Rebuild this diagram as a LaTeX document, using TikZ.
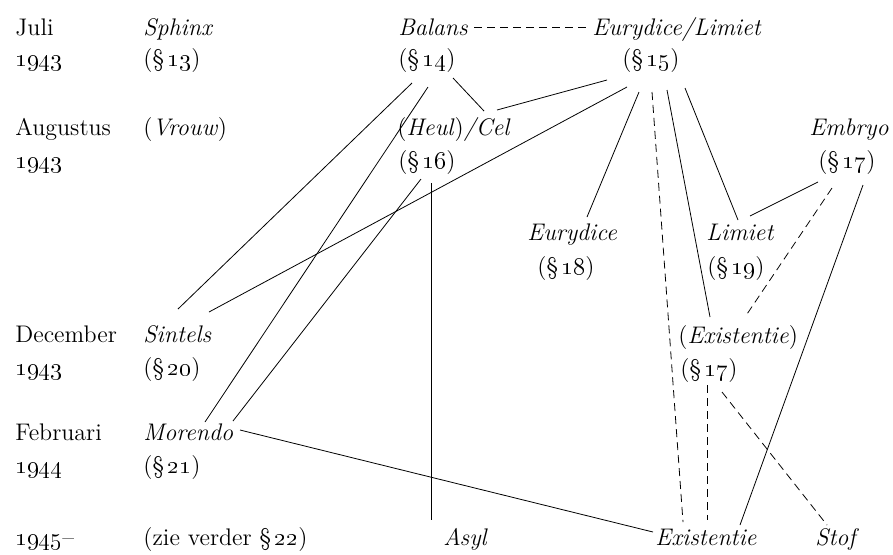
\documentclass[tikz,border=0pt]{standalone}
\usepackage{tikz}
\usetikzlibrary{positioning}

\newcommand{\paragr}[1]{(\S\,\oldstylenums{#1})}

\begin{document}
\begin{tikzpicture}[x=0.5pt, y=-0.5pt,
    every node/.style={anchor=base west, inner sep=0pt, font=\fontsize{12}{14}\selectfont},
    titel/.style={font=\fontsize{12}{14}\selectfont\itshape},
    stippel/.style={dash pattern=on 4pt off 2.5pt}]

    \useasboundingbox (0,0) rectangle (893,554);

    % tijdas
    \node (m1) at (15,35)  {Juli};
    \node (j1) at (15,66)  {\oldstylenums{1943}};
    \node (m2) at (15,135) {Augustus};
    \node (j2) at (15,168) {\oldstylenums{1943}};
    \node (m3) at (15,342) {December};
    \node (j3) at (15,375) {\oldstylenums{1943}};
    \node (m4) at (15,440) {Februari};
    \node (j4) at (15,473) {\oldstylenums{1944}};
    \node (m5) at (15,545) {\oldstylenums{1945}--};

    % gedichten
    \node[titel] (Sphinx) at (143,35) {Sphinx};
    \node (p13) at (143,66) {\paragr{13}};
    \node (Vrouw) at (143,135) {(\textit{Vrouw})};
    \node[titel] (Sintels) at (143,342) {Sintels};
    \node (p20) at (143,375) {\paragr{20}};
    \node[titel] (Morendo) at (143,440) {Morendo};
    \node (p21) at (143,473) {\paragr{21}};
    \node (zie) at (143,545) {(zie verder \S\,\oldstylenums{22})};

    \node[titel] (Balans) at (398,35) {Balans};
    \node (p14) at (398,66) {\paragr{14}};
    \node (Cel) at (397,135) {(\textit{Heul})\textit{/Cel}};
    \node (p16) at (398,168) {\paragr{16}};
    \node[titel] (Asyl) at (443,545) {Asyl};

    \node[titel] (EL) at (592,35) {Eurydice/Limiet};
    \node (p15) at (622,66) {\paragr{15}};
    \node[titel] (Eur) at (527,240) {Eurydice};
    \node (p18) at (537,274) {\paragr{18}};
    \node[titel] (Lim) at (706,240) {Limiet};
    \node (p19) at (707,274) {\paragr{19}};
    \node[titel, anchor=base east] (Emb) at (889,135) {Embryo};
    \node (p17a) at (818,168) {\paragr{17}};
    \node (Ex) at (678,343) {(\textit{Existentie})};
    \node (p17b) at (680,376) {\paragr{17}};
    \node[titel] (Exf) at (655,545) {Existentie};
    \node[titel] (Stof) at (815,545) {Stof};

    % verbanden
    \draw[stippel] ([shift={(6,-8)}]Balans.base east) -- ([shift={(-5,-8)}]EL.base west);

    \draw ([shift={(14,17)}]p14.base west) -- ([shift={(35,-33)}]Sintels.base west);
    \draw ([shift={(30,21)}]p14.base west) -- ([shift={(62,-18)}]Morendo.base west);
    \draw ([shift={(55,12)}]p14.base west) -- ([shift={(87,-24)}]Cel.base west);

    \draw ([shift={(-15,14)}]p15.base west) -- ([shift={(100,-25)}]Cel.base west);
    \draw ([shift={(5,21)}]p15.base west) -- ([shift={(66,-30)}]Sintels.base west);
    \draw ([shift={(17,26)}]p15.base west) -- ([shift={(60,-23)}]Eur.base west);
    \draw[stippel] ([shift={(30,26)}]p15.base west) -- ([shift={(28,-23)}]Exf.base west);
    \draw ([shift={(45,24)}]p15.base west) -- ([shift={(32,-26)}]Ex.base west);
    \draw ([shift={(63,22)}]p15.base west) -- ([shift={(32,-20)}]Lim.base west);

    \draw ([shift={(23,11)}]p16.base west) -- ([shift={(90,-19)}]Morendo.base west);
    \draw ([shift={(33,15)}]p16.base west) -- ([shift={(-12,-25)}]Asyl.base west);

    \draw ([shift={(0,14)}]p17a.base west) -- ([shift={(44,-24)}]Lim.base west);
    \draw[stippel] ([shift={(14,20)}]p17a.base west) -- ([shift={(67,-26)}]Ex.base west);
    \draw ([shift={(45,17)}]p17a.base west) -- ([shift={(85,-20)}]Exf.base west);

    \draw[stippel] ([shift={(27,9)}]p17b.base west) -- ([shift={(52,-25)}]Exf.base west);
    \draw[stippel] ([shift={(42,16)}]p17b.base west) -- ([shift={(12,-20)}]Stof.base west);

    \draw ([shift={(97,-10)}]Morendo.base west) -- ([shift={(-2,-13)}]Exf.base west);

\end{tikzpicture}
\end{document}
